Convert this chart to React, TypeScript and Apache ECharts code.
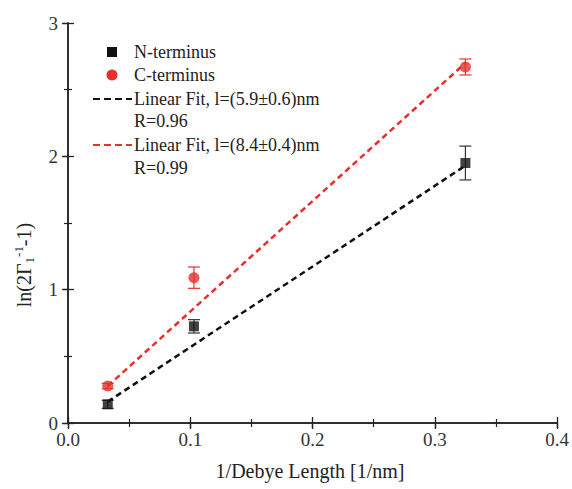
import React, { useEffect, useRef } from "react";
import * as echarts from "echarts";

const nX = [0.0325, 0.103, 0.325];
const nY = [0.14, 0.725, 1.95];
const nErr = [0.03, 0.05, 0.127];
const cX = [0.0325, 0.103, 0.325];
const cY = [0.277, 1.09, 2.67];
const cErr = [0.02, 0.08, 0.06];
const fitX = [0.0325, 0.325];
const nFit = [0.16, 1.93];
const cFit = [0.277, 2.7];
const legendNames = ["N-terminus", "C-terminus", "Linear Fit, l=(5.9±0.6)nm", "R=0.96", "Linear Fit, l=(8.4±0.4)nm", "R=0.99"];

const FONT = "Liberation Serif";

function errSeries(xs: number[], ys: number[], es: number[], color: string) {
  return {
    type: "custom",
    silent: true,
    xAxisIndex: 0,
    yAxisIndex: 0,
    z: 1,
    data: xs.map((x, i) => [x, ys[i] - es[i], ys[i] + es[i]]),
    renderItem: (params: any, api: any) => {
      const lo = api.coord([api.value(0), api.value(1)]);
      const hi = api.coord([api.value(0), api.value(2)]);
      const w = 6;
      const st = { stroke: color, lineWidth: 1.2 };
      return {
        type: "group",
        children: [
          { type: "line", shape: { x1: lo[0], y1: lo[1], x2: hi[0], y2: hi[1] }, style: st },
          { type: "line", shape: { x1: lo[0] - w, y1: lo[1], x2: lo[0] + w, y2: lo[1] }, style: st },
          { type: "line", shape: { x1: hi[0] - w, y1: hi[1], x2: hi[0] + w, y2: hi[1] }, style: st },
        ],
      };
    },
  };
}

export default function App() {
  const ref = useRef<HTMLDivElement>(null);
  useEffect(() => {
    const chart = echarts.init(ref.current!, null, { renderer: "svg" });
    const line = { show: true, lineStyle: { color: "#222", width: 1.5 } };
    const inTick = { show: true, inside: true, length: 6, lineStyle: { color: "#222", width: 1.3 } };
    const outTick = { show: true, inside: false, length: 5, lineStyle: { color: "#222", width: 1.3 } };
    const minor = { show: true, splitNumber: 2, length: 4, lineStyle: { color: "#222", width: 1.2 } };
    const noLabel = { show: false };
    const labelStyle = { fontFamily: FONT, fontSize: 19, color: "#333" };
    const xr = { type: "value", min: 0, max: 0.4, interval: 0.1, splitLine: { show: false } };
    const yr = { type: "value", min: 0, max: 3, interval: 1, splitLine: { show: false } };
    const tx = 134;
    const lt = { fontFamily: FONT, fontSize: 18, fill: "#222" };
    chart.setOption({
      animation: false,
      backgroundColor: "#fff",
      textStyle: { fontFamily: FONT },
      grid: { left: 68, right: 11, top: 23, bottom: 66, containLabel: false },
      xAxis: [
        {
          ...xr, position: "bottom", axisLine: line, axisTick: outTick, minorTick: { show: false },
          axisLabel: { ...labelStyle, margin: 7, formatter: (v: number) => v.toFixed(1) },
        },
        { ...xr, position: "top", axisLine: line, axisTick: inTick, minorTick: minor, axisLabel: noLabel },
        { ...xr, position: "bottom", axisLine: { show: false }, axisTick: inTick, minorTick: minor, axisLabel: noLabel },
      ],
      yAxis: [
        {
          ...yr, position: "left", axisLine: line, axisTick: outTick, minorTick: { show: false },
          axisLabel: { ...labelStyle, margin: 10 },
        },
        { ...yr, position: "right", axisLine: line, axisTick: inTick, minorTick: minor, axisLabel: noLabel },
        { ...yr, position: "left", axisLine: { show: false }, axisTick: inTick, minorTick: minor, axisLabel: noLabel },
      ],
      series: [
        {
          type: "line", data: fitX.map((x, i) => [x, nFit[i]]), symbol: "none", z: 2,
          lineStyle: { color: "#111", width: 2.5, type: [6, 4] },
        },
        {
          type: "line", data: fitX.map((x, i) => [x, cFit[i]]), symbol: "none", z: 2,
          lineStyle: { color: "#e8302a", width: 2.5, type: [6, 4] },
        },
        errSeries(nX, nY, nErr, "#333"),
        errSeries(cX, cY, cErr, "#e8302a"),
        {
          type: "scatter", data: nX.map((x, i) => [x, nY[i]]), symbol: "rect", symbolSize: 10, z: 3,
          itemStyle: { color: "#111" },
        },
        {
          type: "scatter", data: cX.map((x, i) => [x, cY[i]]), symbol: "circle", symbolSize: 11, z: 3,
          itemStyle: { color: "#e8302a" },
        },
      ],
      graphic: [
        { type: "rect", shape: { x: 107, y: 47, width: 10, height: 10 }, style: { fill: "#111" } },
        { type: "circle", shape: { cx: 112, cy: 75, r: 5.5 }, style: { fill: "#e8302a" } },
        { type: "line", shape: { x1: 93, y1: 99, x2: 132, y2: 99 }, style: { stroke: "#111", lineWidth: 2.2, lineDash: [7, 4] } },
        { type: "line", shape: { x1: 93, y1: 145, x2: 132, y2: 145 }, style: { stroke: "#e8302a", lineWidth: 2.2, lineDash: [7, 4] } },
        ...[52, 75, 99, 121, 145, 168].map((y, i) => ({
          type: "text", x: tx, y, style: { ...lt, text: legendNames[i], verticalAlign: "middle" },
        })),
        {
          type: "text", x: 24, y: 265, rotation: Math.PI / 2,
          style: {
            text: "{b|ln(2Γ}{sub|1}{sup|-1}{b|-1)}",
            fontFamily: FONT,
            align: "center",
            verticalAlign: "middle",
            rich: {
              b: { fontFamily: FONT, fontSize: 20, fill: "#222", lineHeight: 30, verticalAlign: "middle" },
              sub: { fontFamily: FONT, fontSize: 13, fill: "#222", lineHeight: 30, verticalAlign: "bottom", padding: [0, 0, 3, 0] },
              sup: { fontFamily: FONT, fontSize: 13, fill: "#222", lineHeight: 30, verticalAlign: "top", padding: [3, 0, 0, 0] },
            },
          },
        },
        {
          type: "text", x: 310, y: 471,
          style: { text: "1/Debye Length [1/nm]", fontFamily: FONT, fontSize: 20, fill: "#222", align: "center", verticalAlign: "middle" },
        },
      ],
    });
    return () => chart.dispose();
  }, []);
  return <div ref={ref} style={{ position: "fixed", left: 0, top: 0, width: 572, height: 489 }} />;
}
